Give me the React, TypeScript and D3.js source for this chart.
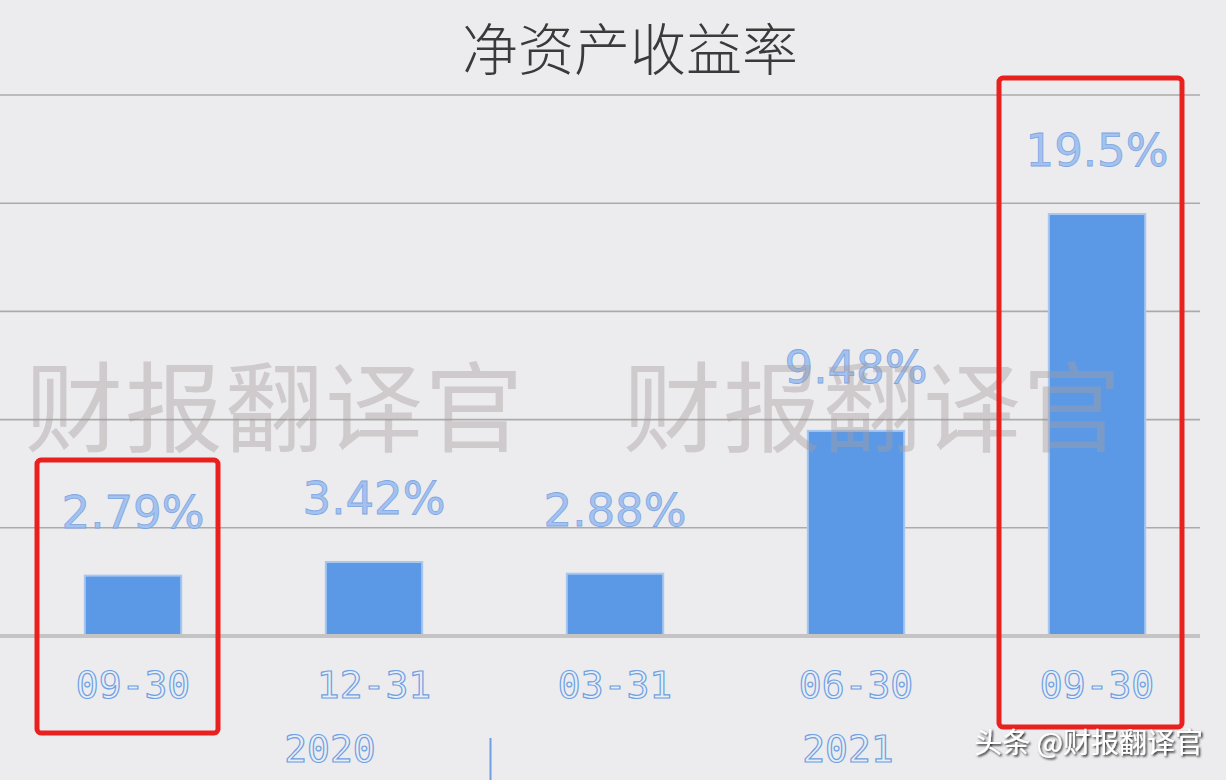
import React from "react";
import * as d3 from "d3";

const title = "净资产收益率";
const categories = ["09-30", "12-31", "03-31", "06-30", "09-30"];
const values = [2.79, 3.42, 2.88, 9.48, 19.5];
const valueLabels = ["2.79%", "3.42%", "2.88%", "9.48%", "19.5%"];
const years = ["2020", "2021"];
const yTicks = [0, 5, 10, 15, 20, 25];
const watermark = "财报翻译官";
const credit = "头条 @财报翻译官";

const W = 1226;
const H = 780;

export default function App() {
  const idx = categories.map((_, i) => i);
  const x = d3
    .scaleBand<number>()
    .domain(idx)
    .range([12.5, 1217.5])
    .paddingInner(0.6)
    .paddingOuter(0.3);
  const y = d3.scaleLinear().domain([0, 25]).range([636, 95]);
  const cx = (i: number) => (x(i) as number) + x.bandwidth() / 2;
  const font = "'Noto Sans CJK SC', 'DejaVu Sans', sans-serif";
  const numFont = "'DejaVu Sans', sans-serif";
  const monoFont = "'DejaVu Sans Mono', monospace";
  const yearX = [330, 848];
  const dividerX = (cx(1) + cx(2)) / 2;

  return (
    <svg
      width={W}
      height={H}
      style={{ position: "fixed", left: 0, top: 0, background: "#ececee" }}
    >
      <defs>
        <filter id="sh" x="-10%" y="-20%" width="130%" height="150%">
          <feDropShadow dx="1.5" dy="1.5" stdDeviation="0.8" floodColor="#000" floodOpacity="0.9" />
        </filter>
      </defs>
      <rect width={W} height={H} fill="#ececee" />
      <text
        x={630}
        y={70}
        textAnchor="middle"
        fontFamily={font}
        fontSize={56}
        fill="#3a3a3a"
        fontWeight={300}
      >
        {title}
      </text>
      {yTicks.slice(1).map((t) => (
        <line key={t} x1={0} x2={1200} y1={y(t)} y2={y(t)} stroke="#ababab" strokeWidth={1.6} />
      ))}
      {idx.map((i) => (
        <rect
          key={i}
          x={x(i)}
          y={y(values[i])}
          width={x.bandwidth()}
          height={y(0) - y(values[i])}
          fill="#5b99e7"
          stroke="#a8c7f0"
          strokeWidth={2}
        />
      ))}
      <line x1={0} x2={1200} y1={y(0)} y2={y(0)} stroke="#c4c4c4" strokeWidth={4} />
      {idx.map((i) => (
        <text
          key={"v" + i}
          x={cx(i)}
          y={y(values[i]) - 48}
          textAnchor="middle"
          fontFamily={numFont}
          fontSize={45}
          fill="#a3c2ef"
          stroke="#7ea6e2"
          strokeWidth={0.8}
        >
          {valueLabels[i]}
        </text>
      ))}
      {idx.map((i) => (
        <text
          key={"c" + i}
          x={cx(i)}
          y={698}
          textAnchor="middle"
          fontFamily={monoFont}
          fontSize={38}
          fill="#e8eef8"
          stroke="#6f9fe0"
          strokeWidth={1.2}
        >
          {categories[i]}
        </text>
      ))}
      {years.map((yr, i) => (
        <text
          key={yr}
          x={yearX[i]}
          y={762}
          textAnchor="middle"
          fontFamily={monoFont}
          fontSize={38}
          fill="#e8eef8"
          stroke="#6f9fe0"
          strokeWidth={1.2}
        >
          {yr}
        </text>
      ))}
      <line x1={dividerX - 4} x2={dividerX - 4} y1={738} y2={780} stroke="#6f9fe0" strokeWidth={2} />
      {[275, 873].map((wx, i) => (
        <text
          key={"w" + i}
          x={wx}
          y={444}
          textAnchor="middle"
          fontFamily={font}
          fontSize={98}
          fill="#a89c9c"
          fillOpacity={0.42}
          letterSpacing={2}
        >
          {watermark}
        </text>
      ))}
      <rect x={37} y={460} width={181} height={273} rx={4} fill="none" stroke="#e8211f" strokeWidth={5} />
      <rect x={999} y={78} width={183} height={649} rx={4} fill="none" stroke="#e8211f" strokeWidth={5} />
      <text
        x={1203}
        y={753}
        textAnchor="end"
        fontFamily={font}
        fontSize={28}
        fill="#ffffff"
        filter="url(#sh)"
      >
        {credit}
      </text>
    </svg>
  );
}
